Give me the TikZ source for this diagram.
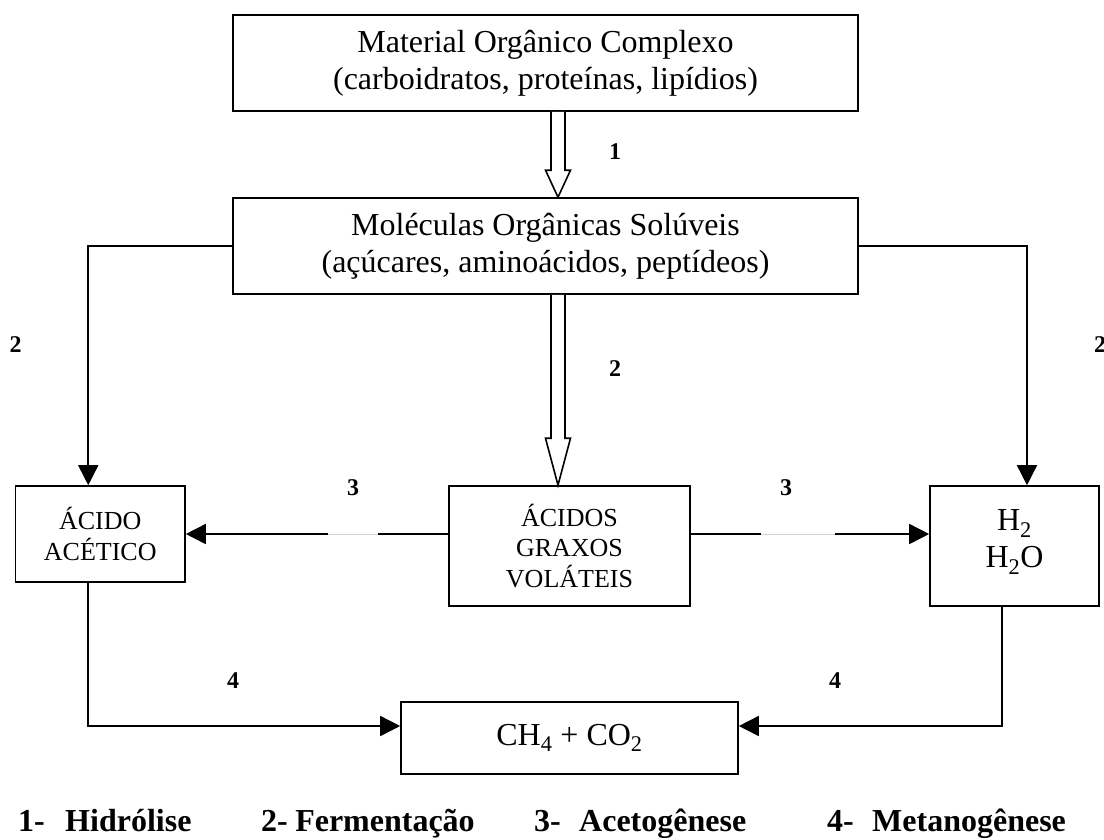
\documentclass[tikz,border=0pt]{standalone}
\usepackage{fontspec}
\setmainfont{Liberation Serif}
\usetikzlibrary{arrows.meta,calc}
\begin{document}
\begin{tikzpicture}[x=1pt,y=-1pt,
  box/.style={draw,line width=1.6pt,inner sep=0pt,align=center,font=\fontsize{32}{37}\selectfont},
  smallbox/.style={box,font=\fontsize{26}{30.5}\selectfont},
  conn/.style={line width=1.6pt,-{Triangle[length=20pt,width=20pt]}},
  hollow/.style={draw,line width=1.6pt,fill=white,line join=miter},
  num/.style={font=\fontsize{24}{24}\selectfont\bfseries,inner sep=0pt},
  legend/.style={font=\fontsize{32}{32}\selectfont\bfseries,anchor=base west,inner sep=0pt},
  gapline/.style={draw=gray!35,line width=1pt}]
\useasboundingbox (0,0) rectangle (1104,839);

% stages
\node[box,minimum width=625pt,minimum height=96pt] (mat) at (545.5,63)
  {Material Orgânico Complexo\\(carboidratos, proteínas, lipídios)};
\node[box,minimum width=625pt,minimum height=96pt] (mol) at (545.5,246)
  {Moléculas Orgânicas Solúveis\\(açúcares, aminoácidos, peptídeos)};
\node[smallbox,minimum width=169.5pt,minimum height=96pt] (acet) at (100.25,534)
  {ÁCIDO\\ACÉTICO};
\node[smallbox,minimum width=241pt,minimum height=120pt] (agv) at (569.5,546)
  {ÁCIDOS\\GRAXOS\\VOLÁTEIS};
\node[box,minimum width=169pt,minimum height=120pt,text depth=14pt] (hid) at (1014.5,546)
  {H\textsubscript{2}\\H\textsubscript{2}O};
\node[box,minimum width=337pt,minimum height=72pt] (met) at (569.5,738)
  {CH\textsubscript{4} + CO\textsubscript{2}};

% hollow arrow: hydrolysis
\coordinate (a1s) at ([xshift=12.5pt]mat.south);
\coordinate (a1e) at ([xshift=12.5pt]mol.north);
\draw[hollow] ($(a1s)+(-7,0)$) -- ($(a1e)+(-7,-27)$) -- ($(a1e)+(-12.5,-27)$)
  -- (a1e) -- ($(a1e)+(12.5,-27)$) -- ($(a1e)+(7,-27)$) -- ($(a1s)+(7,0)$);

% hollow arrow: fermentation to volatile fatty acids
\coordinate (a2s) at ([xshift=12.5pt]mol.south);
\coordinate (a2e) at (a2s |- agv.north);
\draw[hollow] ($(a2s)+(-7,0)$) -- ($(a2e)+(-7,-47)$) -- ($(a2e)+(-12.5,-47)$)
  -- (a2e) -- ($(a2e)+(12.5,-47)$) -- ($(a2e)+(7,-47)$) -- ($(a2s)+(7,0)$);

% fermentation side branches
\draw[conn] (mol.west) -| ([xshift=-12pt]acet.north);
\draw[conn] (mol.east) -| ([xshift=12.5pt]hid.north);

% acetogenesis
\draw[conn] (acet.east -| agv.west) -- (acet.east);
\path (acet.east -| agv.west) -- (acet.east)
  coordinate[pos=0.269] (g1a) coordinate[pos=0.458] (g1b);
\draw[white,line width=3pt] (g1a) -- (g1b);
\draw[gapline] (g1a) -- (g1b);

\draw[conn] (acet.east -| agv.east) -- (acet.east -| hid.west);
\path (acet.east -| agv.east) -- (acet.east -| hid.west)
  coordinate[pos=0.296] (g2a) coordinate[pos=0.604] (g2b);
\draw[white,line width=3pt] (g2a) -- (g2b);
\draw[gapline] (g2a) -- (g2b);

% methanogenesis
\draw[conn] ([xshift=-12pt]acet.south) |- ([yshift=12pt]met.west);
\draw[conn] ([xshift=-12.5pt]hid.south) |- ([yshift=12pt]met.east);

% step numbers
\node[num] (n1) at (615,152) {1};
\node[num] (n2l) at (15.5,345) {2};
\node[num] (n2c) at (615,369) {2};
\node[num] (n2r) at (1100,345) {2};
\node[num] (n3l) at (353,488) {3};
\node[num] (n3r) at (786,488) {3};
\node[num] (n4l) at (233,681) {4};
\node[num] (n4r) at (835,681) {4};

% legend
\node[legend] (l1) at (18,831) {1-\hspace{20.4pt}Hidrólise};
\node[legend] (l2) at (261,831) {2-\hspace{7.4pt}Fermentação};
\node[legend] (l3) at (534,831) {3-\hspace{18.4pt}Acetogênese};
\node[legend] (l4) at (827,831) {4-\hspace{18.4pt}Metanogênese};
\end{tikzpicture}
\end{document}
